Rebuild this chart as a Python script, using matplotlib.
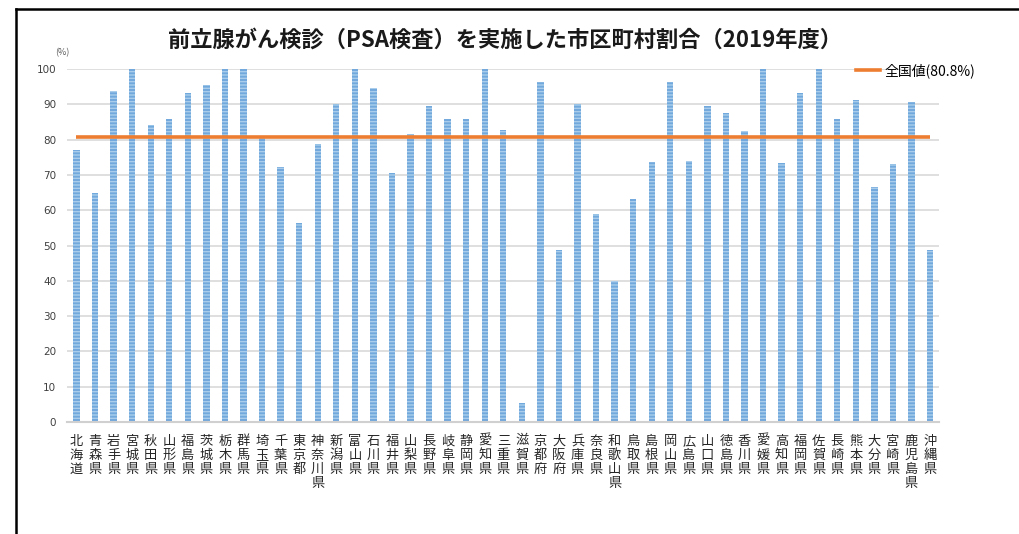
import matplotlib
matplotlib.use("Agg")
import matplotlib.pyplot as plt
from matplotlib.lines import Line2D
import numpy as np

plt.rcParams['font.family'] = ['Noto Sans CJK JP', 'DejaVu Sans']

title = "前立腺がん検診（PSA検査）を実施した市区町村割合（2019年度）"
prefectures = ["北海道", "青森県", "岩手県", "宮城県", "秋田県", "山形県", "福島県",
               "茨城県", "栃木県", "群馬県", "埼玉県", "千葉県", "東京都", "神奈川県",
               "新潟県", "富山県", "石川県", "福井県", "山梨県", "長野県", "岐阜県",
               "静岡県", "愛知県", "三重県", "滋賀県", "京都府", "大阪府", "兵庫県",
               "奈良県", "和歌山県", "鳥取県", "島根県", "岡山県", "広島県", "山口県",
               "徳島県", "香川県", "愛媛県", "高知県", "福岡県", "佐賀県", "長崎県",
               "熊本県", "大分県", "宮崎県", "鹿児島県", "沖縄県"]
rates = [77.1, 65.0, 93.9, 100, 84.0, 85.7, 93.2,
         95.5, 100, 100, 80.6, 72.2, 56.5, 78.8,
         90.0, 100, 94.7, 70.6, 81.5, 89.6, 85.7,
         85.7, 100, 82.8, 5.3, 96.2, 48.8, 90.2,
         59.0, 40.0, 63.2, 73.7, 96.3, 73.9, 89.5,
         87.5, 82.4, 100, 73.5, 93.3, 100, 85.7,
         91.1, 66.7, 73.1, 90.7, 48.8]
national_value = 80.8
national_label = "全国値(80.8%)"
y_ticks = list(range(0, 101, 10))
unit_label = "(%)"

plt.rcParams['hatch.linewidth'] = 1.0

fig = plt.figure(figsize=(10.2, 5.34), dpi=100)
ax = fig.add_axes([0.0659, 0.2097, 0.9209 - 0.0659, 0.8708 - 0.2097])

x = np.arange(len(prefectures))
ax.bar(x, rates, width=0.34, color='#72A9DC', edgecolor='#ABCDEC',
       linewidth=0, hatch='-----', zorder=2)
ax.plot([x[0], x[-1]], [national_value, national_value], color='#ED7D31',
        linewidth=2.6, zorder=3, solid_capstyle='butt')

ax.set_xlim(-0.5, len(prefectures) - 0.5)
ax.set_ylim(0, 100)
ax.set_yticks(y_ticks)
ax.set_yticklabels([str(v) for v in y_ticks], fontsize=7.5, color='#404040',
                   family=['DejaVu Sans'])
ax.yaxis.grid(True, color='#D9D9D9', linewidth=1.2, zorder=0)
ax.set_axisbelow(True)
for s in ['top', 'right', 'left']:
    ax.spines[s].set_visible(False)
ax.spines['bottom'].set_color('#D0D0D0')
ax.spines['bottom'].set_linewidth(1.5)
ax.tick_params(axis='y', length=0, pad=8)
ax.tick_params(axis='x', length=0, pad=9)
ax.set_xticks(x)
ax.set_xticklabels(["\n".join(p) for p in prefectures], fontsize=9.5,
                   color='#262626', linespacing=1.13, va='top')

fig.text(0.061, 0.902, unit_label, fontsize=6.5, color='#595959', ha='center', va='center')
fig.text(0.495, 0.925, title, fontsize=16, fontweight='bold', ha='center',
         va='center', color='#1a1a1a')

handle = Line2D([0], [0], color='#ED7D31', linewidth=2.6)
fig.legend([handle], [national_label], loc='center left',
           bbox_to_anchor=(0.834, 0.868), frameon=False, fontsize=10,
           handlelength=1.7, handletextpad=0.35, borderaxespad=0)

# figure border lines
fig.add_artist(Line2D([16 / 1020, 1.0], [1 - 8.5 / 534, 1 - 8.5 / 534],
                      transform=fig.transFigure, color='black', linewidth=1.8))
fig.add_artist(Line2D([16 / 1020, 16 / 1020], [0, 1 - 8.5 / 534],
                      transform=fig.transFigure, color='black', linewidth=1.8))

fig.savefig("out.png", dpi=100)
